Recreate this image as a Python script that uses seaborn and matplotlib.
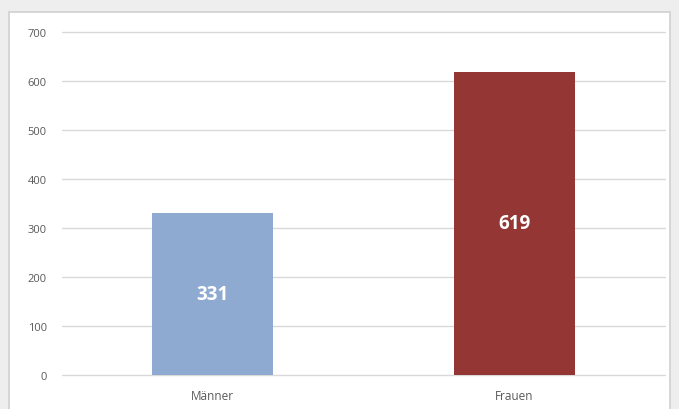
import matplotlib
matplotlib.use("Agg")
import matplotlib.pyplot as plt
import seaborn as sns
import pandas as pd
from matplotlib.patches import Rectangle

categories = ["Männer", "Frauen"]
values = [331, 619]
colors = ["#8eaad0", "#943634"]
yticks = [0, 100, 200, 300, 400, 500, 600, 700]

sns.set_theme(style="white")
plt.rcParams['font.family'] = ['Open Sans', 'DejaVu Sans']

W, H = 679, 410
fig = plt.figure(figsize=(W / 100, H / 100), dpi=100)
fig.patch.set_facecolor("#eeeeee")
fig.patches.append(Rectangle((9 / W, -0.05), (670 - 9) / W, (H - 13) / H + 0.05,
                             transform=fig.transFigure, facecolor="white",
                             edgecolor="#d0d0d0", linewidth=1.2, zorder=-10))

ax = fig.add_axes([62 / W, (H - 376) / H, (665 - 62) / W, (376 - 33) / H])
ax.set_zorder(5)
ax.set_facecolor("none")

df = pd.DataFrame({"cat": categories, "val": values})
sns.barplot(data=df, x="cat", y="val", hue="cat", palette=colors, width=0.4,
            legend=False, ax=ax, saturation=1, zorder=3, linewidth=0)

ax.set_ylim(0, 700)
ax.set_xlim(-0.5, 1.5)
ax.set_yticks(yticks)
ax.yaxis.grid(True, color="#d9d9d9", linewidth=1, zorder=0)
for gl in ax.get_ygridlines():
    gl.set_clip_on(False)
ax.set_axisbelow(True)
for s in ax.spines.values():
    s.set_visible(False)
ax.tick_params(axis="y", length=0, pad=11, labelsize=8, labelcolor="#595959")
ax.tick_params(axis="x", length=0, pad=10, labelsize=8.5, labelcolor="#595959")
ax.set_xlabel("")
ax.set_ylabel("")

for i, v in enumerate(values):
    ax.text(i, v / 2, str(v), ha="center", va="center", color="white",
            fontsize=13.5, fontweight="bold", zorder=5)

fig.savefig("out.png", dpi=100, facecolor=fig.get_facecolor())
